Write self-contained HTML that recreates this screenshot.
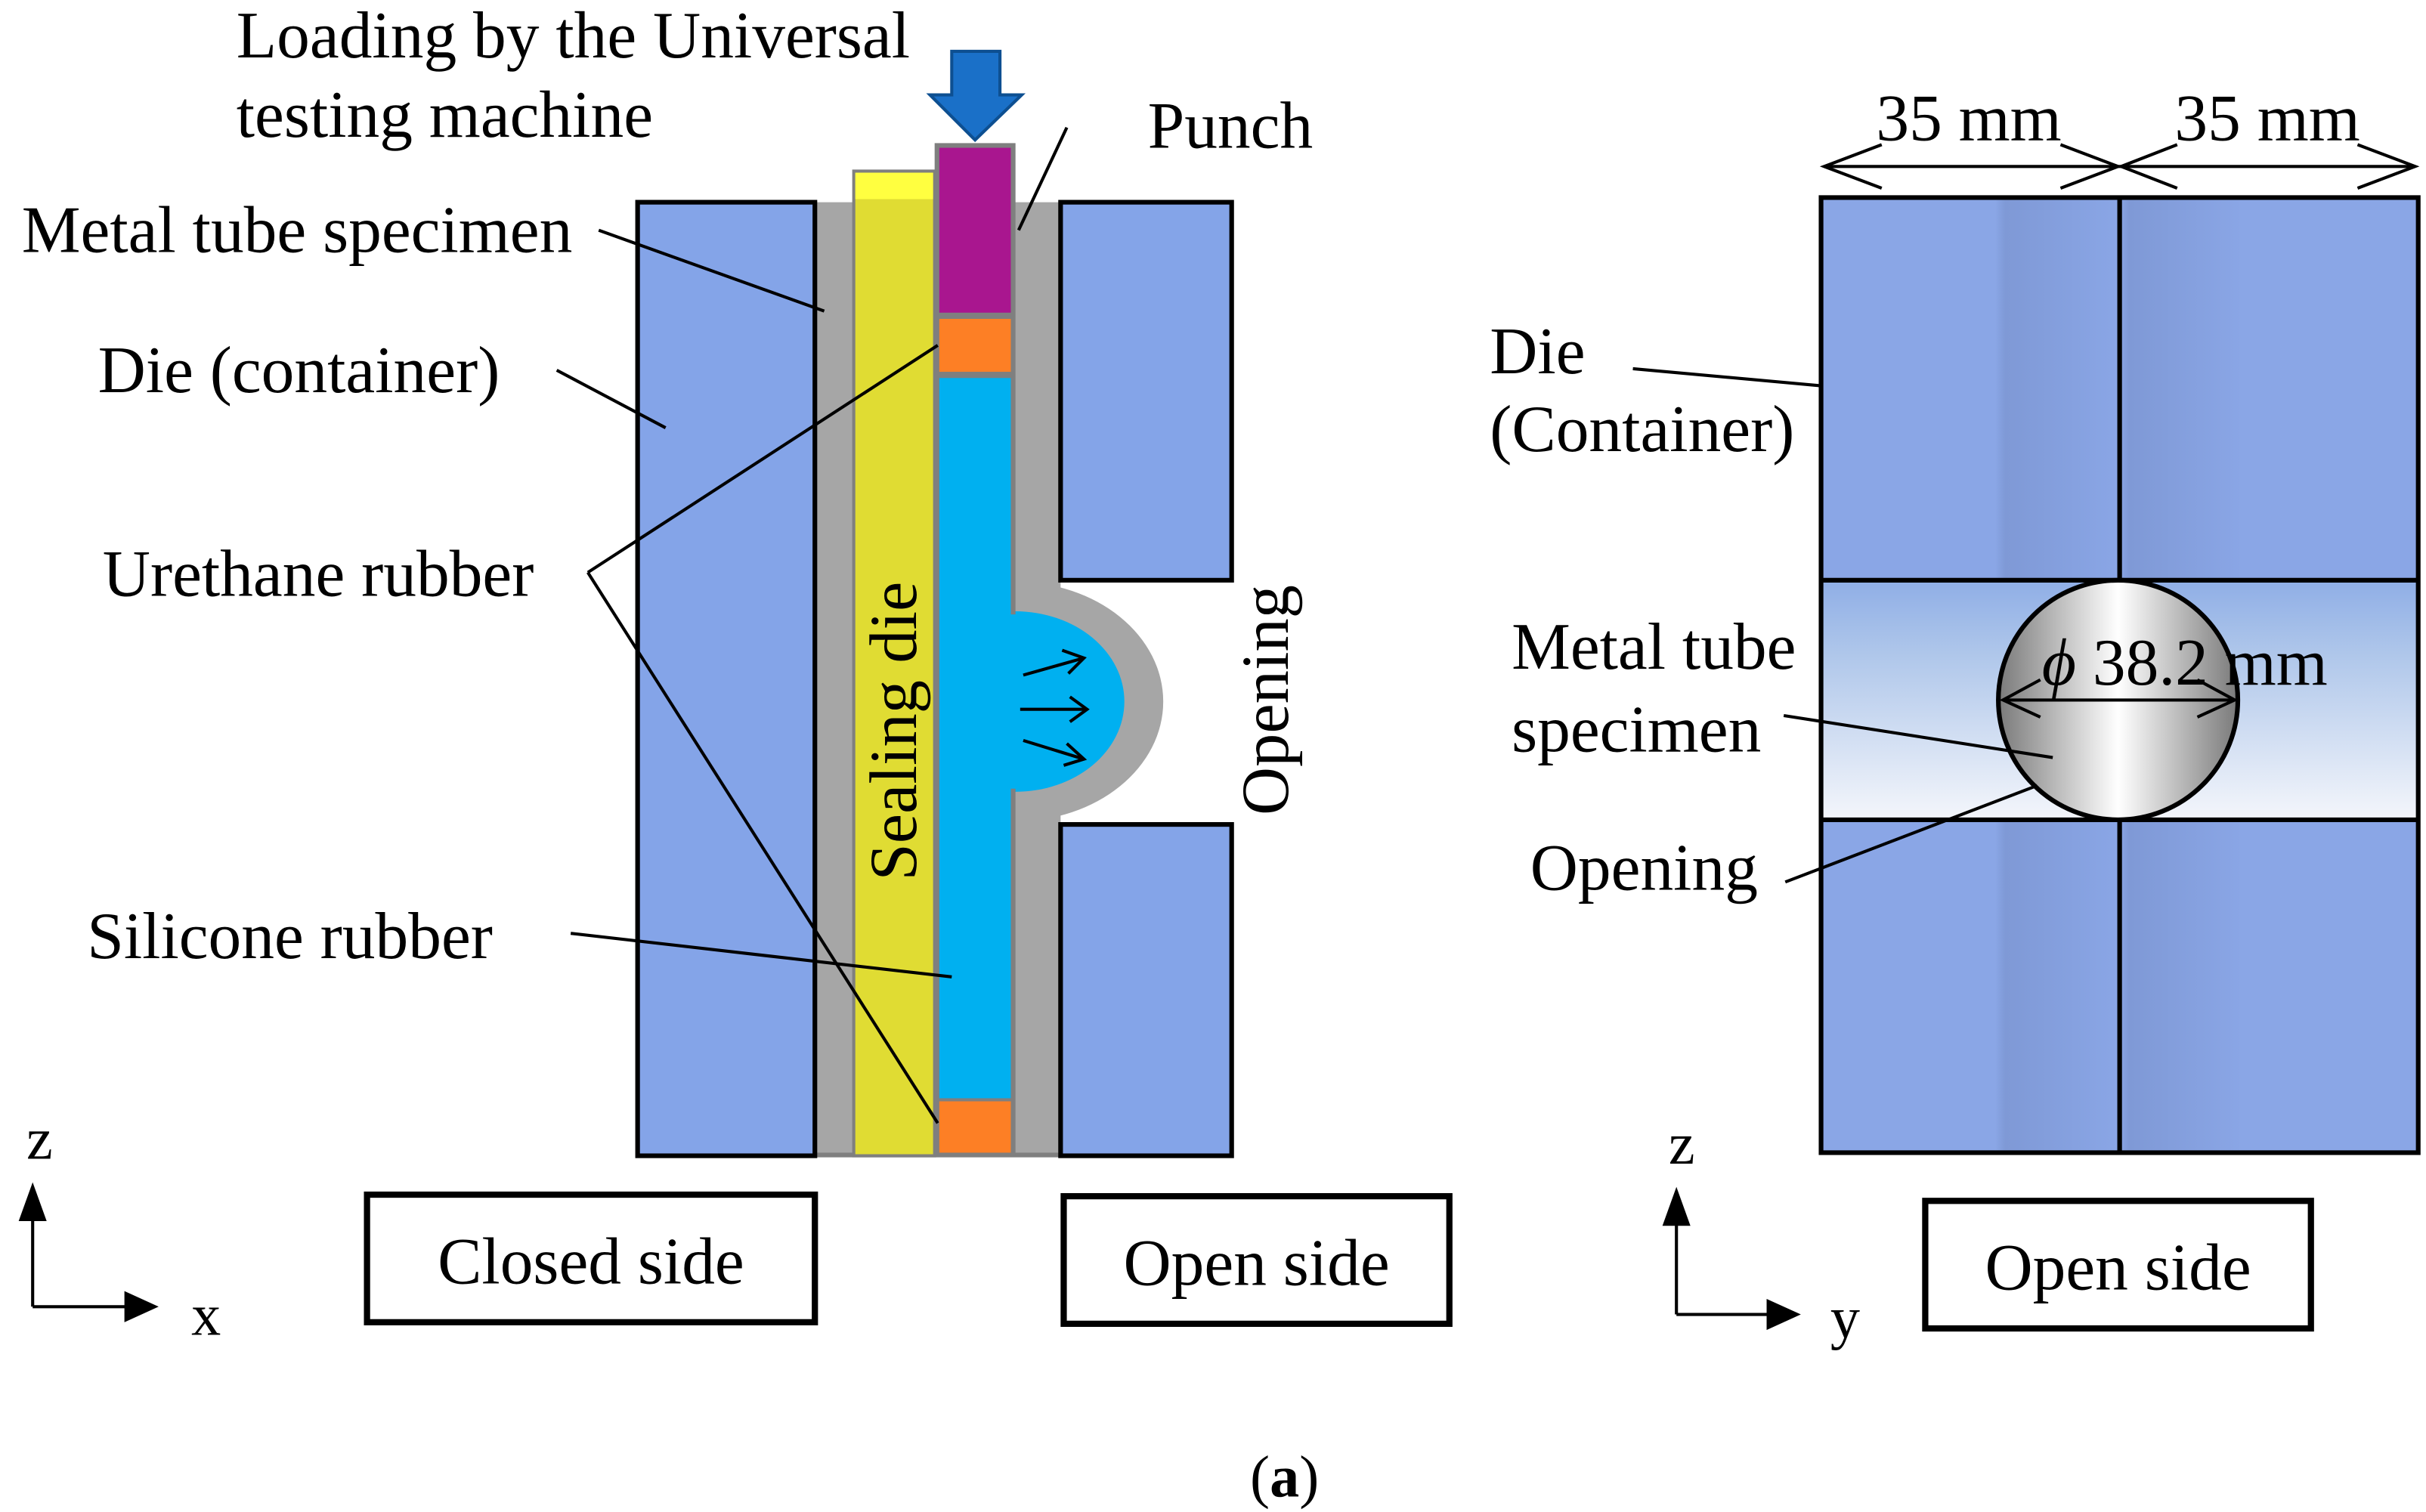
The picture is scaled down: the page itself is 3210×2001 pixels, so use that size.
<!DOCTYPE html>
<html><head><meta charset="utf-8"><style>html,body{margin:0;padding:0;background:#fff}svg{display:block}</style></head>
<body>
<svg width="3210" height="2001" viewBox="0 0 1560 972" preserveAspectRatio="none" xmlns="http://www.w3.org/2000/svg" font-family="Liberation Serif, serif" font-size="42.5">
<defs>
<linearGradient id="ball" x1="0" x2="1" y1="0" y2="0">
<stop offset="0" stop-color="#7a7a7a"/><stop offset="0.5" stop-color="#ffffff"/><stop offset="1" stop-color="#7a7a7a"/></linearGradient>
<linearGradient id="band" x1="0" x2="0" y1="0" y2="1">
<stop offset="0" stop-color="#8faee6"/><stop offset="0.3" stop-color="#aec6ea"/><stop offset="1" stop-color="#f4f6fb"/></linearGradient>
<linearGradient id="stripe" x1="0" x2="1" y1="0" y2="0">
<stop offset="0" stop-color="#8aa6e6"/><stop offset="0.08" stop-color="#7f99d6"/><stop offset="1" stop-color="#8aa6e6"/></linearGradient>
</defs>
<!-- LEFT -->
<rect x="524" y="130" width="158" height="613" fill="#a6a6a6"/>
<ellipse cx="653" cy="451" rx="95" ry="77" fill="#a6a6a6"/>
<ellipse cx="653" cy="451" rx="70" ry="58" fill="#00b0f0"/>
<rect x="524" y="741" width="158" height="3" fill="#7f7f7f"/>
<rect x="410" y="130" width="114" height="613" fill="#84a4e8" stroke="#000" stroke-width="3"/>
<rect x="682" y="130" width="110" height="243" fill="#84a4e8" stroke="#000" stroke-width="3"/>
<rect x="682" y="530" width="110" height="213" fill="#84a4e8" stroke="#000" stroke-width="3"/>
<rect x="549" y="110" width="52" height="633" fill="#e0dc33" stroke="#7f7f7f" stroke-width="2"/>
<rect x="550" y="111" width="50" height="17" fill="#ffff40"/>
<rect x="601" y="92" width="52" height="651" fill="#7f7f7f"/>
<rect x="604" y="95" width="46" height="106" fill="#a9168f"/>
<rect x="604" y="205" width="46" height="34" fill="#fd7f25"/>
<rect x="604" y="243" width="46" height="463" fill="#00b0f0"/>
<rect x="650" y="395" width="6" height="112" fill="#00b0f0"/>
<rect x="604" y="708" width="46" height="33" fill="#fd7f25"/>
<polygon points="612,33 643,33 643,61 657,61 627,90 598,61 612,61" fill="#1a70c8" stroke="#0d4f91" stroke-width="2"/>
<g stroke="#000" stroke-width="2" fill="none">
<line x1="658" y1="434" x2="697" y2="423"/><polyline points="683,418 697,423 687,433"/>
<line x1="656" y1="456" x2="699" y2="456"/><polyline points="688,448 699,456 688,464"/>
<line x1="658" y1="476" x2="697" y2="488"/><polyline points="686,478 697,488 684,492"/>
<line x1="385" y1="148" x2="530" y2="200"/>
<line x1="358" y1="238" x2="428" y2="275"/>
<line x1="686" y1="82" x2="655" y2="148"/>
<line x1="378" y1="368" x2="603" y2="222"/>
<line x1="378" y1="368" x2="603" y2="722"/>
<line x1="367" y1="600" x2="612" y2="628"/>
</g>
<text x="152" y="37">Loading by the Universal</text>
<text x="152" y="88">testing machine</text>
<text x="738" y="95">Punch</text>
<text x="14" y="162">Metal tube specimen</text>
<text x="63" y="252">Die (container)</text>
<text x="66" y="383">Urethane rubber</text>
<text x="56" y="616">Silicone rubber</text>
<text transform="translate(589,470) rotate(-90)" text-anchor="middle" font-size="43">Sealing die</text>
<text transform="translate(828,450) rotate(-90)" text-anchor="middle" font-size="43">Opening</text>
<rect x="236" y="768" width="288" height="82" fill="none" stroke="#000" stroke-width="4"/>
<text x="380" y="825" text-anchor="middle">Closed side</text>
<rect x="684" y="769" width="248" height="82" fill="none" stroke="#000" stroke-width="4"/>
<text x="808" y="826" text-anchor="middle">Open side</text>
<g stroke="#000" stroke-width="2"><line x1="21" y1="840" x2="21" y2="780"/><line x1="21" y1="840" x2="82" y2="840"/></g>
<polygon points="21,760 12,785 30,785" fill="#000"/><polygon points="102,840 80,830 80,850" fill="#000"/>
<text x="17" y="745" font-size="38">z</text><text x="123" y="858" font-size="38">x</text>
<!-- RIGHT -->
<rect x="1171" y="127" width="384" height="614" fill="#8aa6e6"/>
<rect x="1283" y="127" width="80" height="246" fill="url(#stripe)"/>
<rect x="1363" y="127" width="80" height="246" fill="url(#stripe)"/>
<rect x="1283" y="527" width="80" height="214" fill="url(#stripe)"/>
<rect x="1363" y="527" width="80" height="214" fill="url(#stripe)"/>
<rect x="1171" y="373" width="384" height="154" fill="url(#band)"/>
<rect x="1171" y="127" width="384" height="614" fill="none" stroke="#000" stroke-width="3"/>
<g stroke="#000" stroke-width="3"><line x1="1363" y1="127" x2="1363" y2="373"/><line x1="1363" y1="527" x2="1363" y2="741"/><line x1="1171" y1="373" x2="1555" y2="373"/><line x1="1171" y1="527" x2="1555" y2="527"/></g>
<circle cx="1362" cy="450" r="77" fill="url(#ball)" stroke="#000" stroke-width="3"/>
<g stroke="#000" stroke-width="2" fill="none">
<line x1="1288" y1="450" x2="1437" y2="450"/><polyline points="1312,437 1288,450 1312,461"/><polyline points="1413,437 1437,450 1413,461"/>
<line x1="1173" y1="107" x2="1553" y2="107"/>
<polyline points="1210,93 1173,107 1210,121"/><polyline points="1325,93 1362,107 1325,121"/>
<polyline points="1400,93 1364,107 1400,121"/><polyline points="1516,93 1553,107 1516,121"/>
<line x1="1050" y1="237" x2="1171" y2="248"/>
<line x1="1147" y1="460" x2="1320" y2="487"/>
<line x1="1148" y1="567" x2="1310" y2="505"/>
</g>
<text x="1266" y="90" text-anchor="middle">35 mm</text>
<text x="1458" y="90" text-anchor="middle">35 mm</text>
<text x="1313" y="440"><tspan font-style="italic">ϕ</tspan> 38.2 mm</text>
<text x="958" y="240">Die</text>
<text x="958" y="290">(Container)</text>
<text x="972" y="430">Metal tube</text>
<text x="972" y="483">specimen</text>
<text x="984" y="572">Opening</text>
<rect x="1238" y="772" width="248" height="82" fill="none" stroke="#000" stroke-width="4"/>
<text x="1362" y="829" text-anchor="middle">Open side</text>
<g stroke="#000" stroke-width="2"><line x1="1078" y1="845" x2="1078" y2="785"/><line x1="1078" y1="845" x2="1138" y2="845"/></g>
<polygon points="1078,763 1069,788 1087,788" fill="#000"/><polygon points="1158,845 1136,835 1136,855" fill="#000"/>
<text x="1073" y="748" font-size="38">z</text><text x="1177" y="860" font-size="38">y</text>
<text x="826" y="962" text-anchor="middle" font-size="38">(<tspan font-weight="bold">a</tspan>)</text>
</svg>
</body></html>
